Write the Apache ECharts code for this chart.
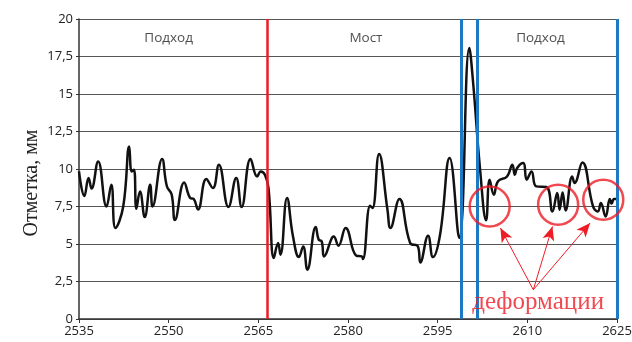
<!DOCTYPE html>
<html>
<head>
<meta charset="utf-8">
<script src="https://cdn.jsdelivr.net/npm/echarts@6/dist/echarts.min.js"></script>
<style>
  html, body { margin: 0; padding: 0; background: #fff; }
  #chart { width: 632px; height: 342px; }
</style>
</head>
<body>
<div id="chart"></div>
<script>
// profile: station (x) and mark, mm (y)
const stations = [
    2535.0, 2535.9, 2536.6, 2537.1, 2538.2, 2539.6, 2540.4, 2541.1, 2542.4, 2543.4,
    2543.8, 2544.2, 2544.6, 2545.2, 2546.0, 2546.9, 2547.3, 2548.9, 2549.7, 2550.5,
    2551.05, 2552.6, 2553.6, 2554.2, 2554.9, 2556.3, 2557.4, 2558.4, 2560.0, 2561.3,
    2562.2, 2563.7, 2564.8, 2565.4, 2566.1, 2566.7, 2567.6, 2568.3, 2568.7, 2569.8,
    2570.8, 2571.8, 2572.5, 2573.2, 2574.6, 2575.1, 2575.6, 2576.0, 2577.3, 2577.6,
    2578.4, 2579.6, 2581.4, 2582.3, 2582.5, 2583.7, 2584.1, 2585.2, 2586.6, 2587.1,
    2588.6, 2590.4, 2591.7, 2592.1, 2593.4, 2594.2, 2595.4, 2597.0, 2598.6, 2600.3,
    2600.9, 2602.1, 2603.1, 2603.7, 2604.4, 2605.1, 2606.6, 2607.5, 2607.9, 2608.3,
    2609.3, 2609.9, 2610.7, 2611.5, 2613.2, 2614.2, 2615.0, 2615.4, 2615.9, 2616.4,
    2617.5, 2617.9, 2619.2, 2621.0, 2621.8, 2622.3, 2623.1, 2623.8, 2624.1, 2624.5,
    2624.9
];
const marks = [
    9.84, 8.2, 9.4, 8.7, 10.5, 7.5, 8.95, 6.07, 7.5, 11.5,
    9.84, 9.95, 7.35, 8.5, 6.8, 8.95, 7.5, 10.67, 8.85, 8.3,
    6.6, 9.1, 8.07, 8.0, 7.3, 9.33, 8.73, 10.29, 7.47, 9.4,
    7.47, 10.67, 9.5, 9.84, 9.62, 8.73, 4.07, 5.07, 4.29, 8.07,
    5.5, 4.13, 4.84, 3.29, 6.13, 5.29, 5.18, 4.17, 5.4, 5.5,
    4.89, 6.07, 4.22, 4.17, 4.0, 7.55, 7.4, 11.0, 7.29, 6.07,
    8.0, 5.07, 4.84, 3.77, 5.55, 4.13, 5.62, 10.73, 5.4, 18.07,
    15.9, 9.95, 6.58, 9.29, 8.29, 9.18, 9.5, 10.29, 9.62, 10.07,
    10.4, 9.29, 9.84, 8.84, 8.8, 7.17, 8.4, 7.29, 8.44, 7.24,
    9.5, 9.07, 10.44, 7.5, 7.17, 7.73, 6.84, 8.0, 7.7, 8.0,
    8.0
];

const xTicks = [2535, 2550, 2565, 2580, 2595, 2610, 2625];
const yTicks = [0, 2.5, 5, 7.5, 10, 12.5, 15, 17.5, 20];

// section borders
const redBorders = [2566.5];
const blueBorders = [2599.0, 2601.7, 2625];

// section titles
const sectionNames = ['Подход', 'Мост', 'Подход'];
const sectionX = [2550, 2583, 2612.2];
const sectionY = 18.75;

// deformation circles and arrows
const circleX = [2603.7, 2615.15, 2622.7];
const circleY = [7.5, 7.62, 7.95];
const arrowFrom = [2611.0, 1.95];
const arrowToX = [2605.5, 2614.2, 2620.5];
const arrowToY = [6.07, 6.17, 6.4];
const noteText = 'деформации';
const notePos = [2611.8, 1.1];

const chart = echarts.init(document.getElementById('chart'));

const labelFont = { color: '#222', fontSize: 13, fontFamily: 'Open Sans' };

const option = {
    animation: false,
    grid: { left: 79, right: 15, top: 19, bottom: 23, outerBoundsMode: 'none' },
    xAxis: {
        type: 'value',
        min: xTicks[0],
        max: xTicks[xTicks.length - 1],
        interval: 15,
        axisLine: { lineStyle: { color: '#333', width: 1.5 } },
        axisTick: { show: true, length: 4, lineStyle: { color: '#333' } },
        axisLabel: Object.assign({ margin: 6, formatter: v => String(v) }, labelFont),
        splitLine: { show: false }
    },
    yAxis: {
        type: 'value',
        min: yTicks[0],
        max: yTicks[yTicks.length - 1],
        interval: 2.5,
        axisLine: { show: true, lineStyle: { color: '#333', width: 1.5 } },
        axisTick: { show: true, length: 3, lineStyle: { color: '#333' } },
        axisLabel: Object.assign({
            margin: 6,
            formatter: v => String(v).replace('.', ',')
        }, labelFont),
        splitLine: { show: true, lineStyle: { color: '#555', width: 1 } }
    },
    graphic: [{
        type: 'text',
        x: 32, y: 183,
        rotation: Math.PI / 2,
        style: {
            text: 'Отметка, мм',
            fill: '#222',
            font: '20px "Liberation Serif"',
            align: 'center',
            verticalAlign: 'middle'
        }
    }],
    series: [
        {
            type: 'line',
            data: stations.map((s, i) => [s, marks[i]]),
            smooth: 0.45,
            showSymbol: false,
            lineStyle: { color: '#111', width: 2.5 },
            z: 3,
            markLine: {
                silent: true,
                symbol: ['none', 'none'],
                label: { show: false },
                z: 5,
                data: redBorders.map(x => ({ xAxis: x, lineStyle: { color: '#ec1c24', width: 2.5, type: 'solid' } }))
                    .concat(blueBorders.map(x => ({ xAxis: x, lineStyle: { color: '#1d79c4', width: 3, type: 'solid' } })))
            }
        },
        {
            type: 'scatter',
            data: sectionX.map((x, i) => ({ value: [x, sectionY], name: sectionNames[i] })),
            symbolSize: 0,
            label: {
                show: true,
                position: 'inside',
                formatter: p => p.name,
                color: '#222',
                fontSize: 13.5,
                fontFamily: 'Open Sans'
            },
            z: 6
        },
        {
            type: 'scatter',
            data: circleX.map((x, i) => [x, circleY[i]]),
            symbol: 'circle',
            symbolSize: 40,
            itemStyle: { color: 'rgba(0,0,0,0)', borderColor: '#ee1c25', borderWidth: 2.5 },
            z: 7
        },
        {
            type: 'scatter',
            data: [{ value: notePos, name: noteText }],
            symbolSize: 0,
            label: {
                show: true,
                position: 'inside',
                formatter: p => p.name,
                color: '#ee1c25',
                fontSize: 25,
                fontFamily: 'Liberation Serif'
            },
            z: 7,
            markLine: {
                silent: true,
                symbol: ['none', 'arrow'],
                symbolSize: [9, 14],
                label: { show: false },
                lineStyle: { color: '#ee1c25', width: 1, type: 'solid' },
                data: arrowToX.map((x, i) => [
                    { coord: arrowFrom },
                    { coord: [x, arrowToY[i]] }
                ])
            }
        }
    ]
};

chart.setOption(option);
</script>
</body>
</html>
